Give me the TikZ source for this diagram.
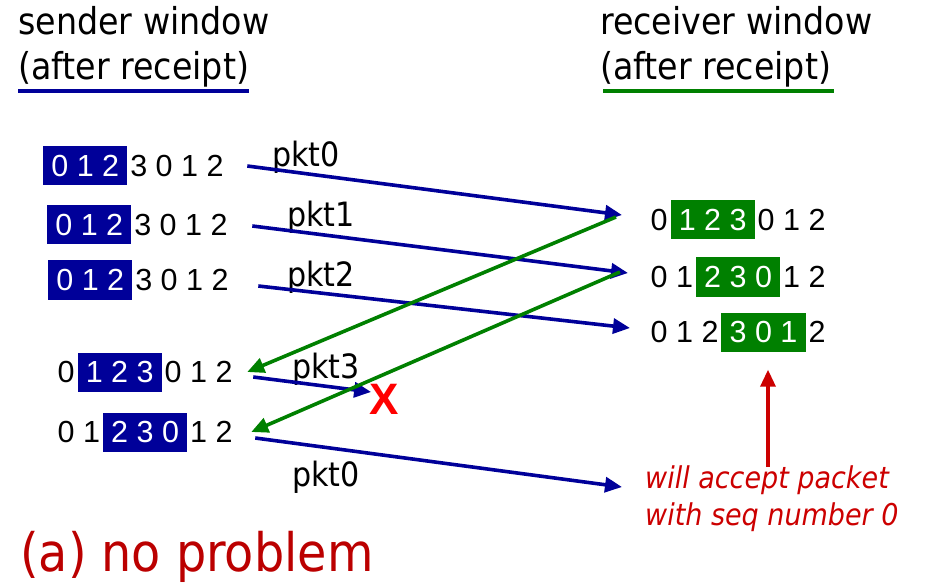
\documentclass[tikz,border=0pt]{standalone}
\usepackage{fontspec}
\setmainfont{Liberation Sans}
\newfontfamily\tah{DejaVu Sans Condensed}
\usetikzlibrary{arrows.meta,calc}
\definecolor{navy}{HTML}{000099}
\definecolor{dgreen}{HTML}{008000}
\definecolor{dred}{HTML}{CC0000}
\definecolor{capred}{HTML}{BB0000}
\definecolor{xred}{HTML}{FF0000}
\begin{document}
\begin{tikzpicture}[x=1pt,y=-1pt,
  num/.style={font=\fontsize{30.5}{36}\selectfont, inner xsep=2.5pt, inner ysep=0pt, anchor=west},
  sbox/.style={num, fill=navy, text=white, inner xsep=8.2pt, minimum height=39pt},
  rbox/.style={num, fill=dgreen, text=white, inner xsep=8.2pt, minimum height=39pt},
  head/.style={font=\tah\fontsize{37}{42}\selectfont, inner sep=0pt, anchor=base west},
  pkt/.style={font=\tah\fontsize{33.5}{38}\selectfont, inner sep=0pt, anchor=base west},
  note/.style={font=\tah\itshape\fontsize{30}{36}\selectfont, text=dred, inner sep=0pt, anchor=base west},
  barrow/.style={navy, line width=3.6pt, -{Triangle[length=17pt,width=15pt]}},
  garrow/.style={dgreen, line width=3.6pt, -{Triangle[length=17pt,width=15pt]}},
  rarrow/.style={dred, line width=3.4pt, -{Triangle[length=17pt,width=15pt]}},
  uline/.style={line width=3.5pt}
]
\useasboundingbox (0,0) rectangle (931,585);
% headers
\node[head] (sh1) at (18,35) {sender window};
\node[head] (sh2) at (18,80) {(after receipt)};
\node[head] (rh1) at (600,35) {receiver window};
\node[head] (rh2) at (600,80) {(after receipt)};
\draw[uline, navy] ($(sh2.base west)+(0,11)$) -- ($(sh2.base east)+(0,11)$);
\draw[uline, dgreen] ($(rh2.base west)+(3,11)$) -- ($(rh2.base east)+(3,11)$);
% sender rows
\node[sbox] (s1b) at (43,166) {0 1 2};
\node[num] (s1t) at (s1b.east) {3 0 1 2};
\node[sbox] (s2b) at (47,225) {0 1 2};
\node[num] (s2t) at (s2b.east) {3 0 1 2};
\node[sbox] (s3b) at (48,280) {0 1 2};
\node[num] (s3t) at (s3b.east) {3 0 1 2};
\node[num] (s4a) at (55,372) {0};
\node[sbox] (s4b) at (s4a.east) {1 2 3};
\node[num] (s4t) at (s4b.east) {0 1 2};
\node[num] (s5a) at (55,432) {0 1};
\node[sbox] (s5b) at (s5a.east) {2 3 0};
\node[num] (s5t) at (s5b.east) {1 2};
% receiver rows
\node[num] (r1a) at (648,220) {0};
\node[rbox] (r1b) at (r1a.east) {1 2 3};
\node[num] (r1t) at (r1b.east) {0 1 2};
\node[num] (r2a) at (648,277) {0 1};
\node[rbox] (r2b) at (r2a.east) {2 3 0};
\node[num] (r2t) at (r2b.east) {1 2};
\node[num] (r3a) at (648,332) {0 1 2};
\node[rbox] (r3b) at (r3a.east) {3 0 1};
\node[num] (r3t) at (r3b.east) {2};
% notes
\node[note] (n1) at (645,488) {will accept packet};
\node[note] (n2) at (645,525) {with seq number 0};
\node[font=\bfseries\fontsize{44}{50}\selectfont, text=xred, inner sep=0pt] (xm) at (384,399) {X};
% labels
\node[pkt] (l0) at (272,167) {pkt0};
\node[pkt] (l1) at (287,227) {pkt1};
\node[pkt] (l2) at (287,287) {pkt2};
\node[pkt] (l3) at (292,378) {pkt3};
\node[pkt] (l4) at (292,486) {pkt0};
\node[font=\tah\fontsize{53}{58}\selectfont, text=capred, inner sep=0pt, anchor=base west] (cap) at (20,571) {(a) no problem};
% blue arrows
\draw[barrow] ($(s1t.east)+(21,0)$) -- ($(r1a.west)+(-26,-5)$);
\draw[barrow] ($(s2t.east)+(22,1)$) -- ($(r2a.west)+(-20,-4)$);
\draw[barrow] ($(s3t.east)+(27,6)$) -- ($(r3a.west)+(-18,-4)$);
\draw[barrow] ($(s4t.east)+(18,5)$) -- ($(xm.west)+(2,-7)$);
\draw[barrow] ($(s5t.east)+(20,6)$) -- ($(n1.base west)+(-23,-1)$);
% green arrows
\draw[garrow] ($(r1a.west)+(-32,-3)$) -- ($(s4t.east)+(12,0)$);
\draw[garrow] ($(r2a.west)+(-28,-5)$) -- ($(s5t.east)+(16,0)$);
% red arrow
\draw[rarrow] ($(n1.north)+(1,2)$) -- ($(n1.north |- r3b.south)+(1,18)$);
\end{tikzpicture}
\end{document}
